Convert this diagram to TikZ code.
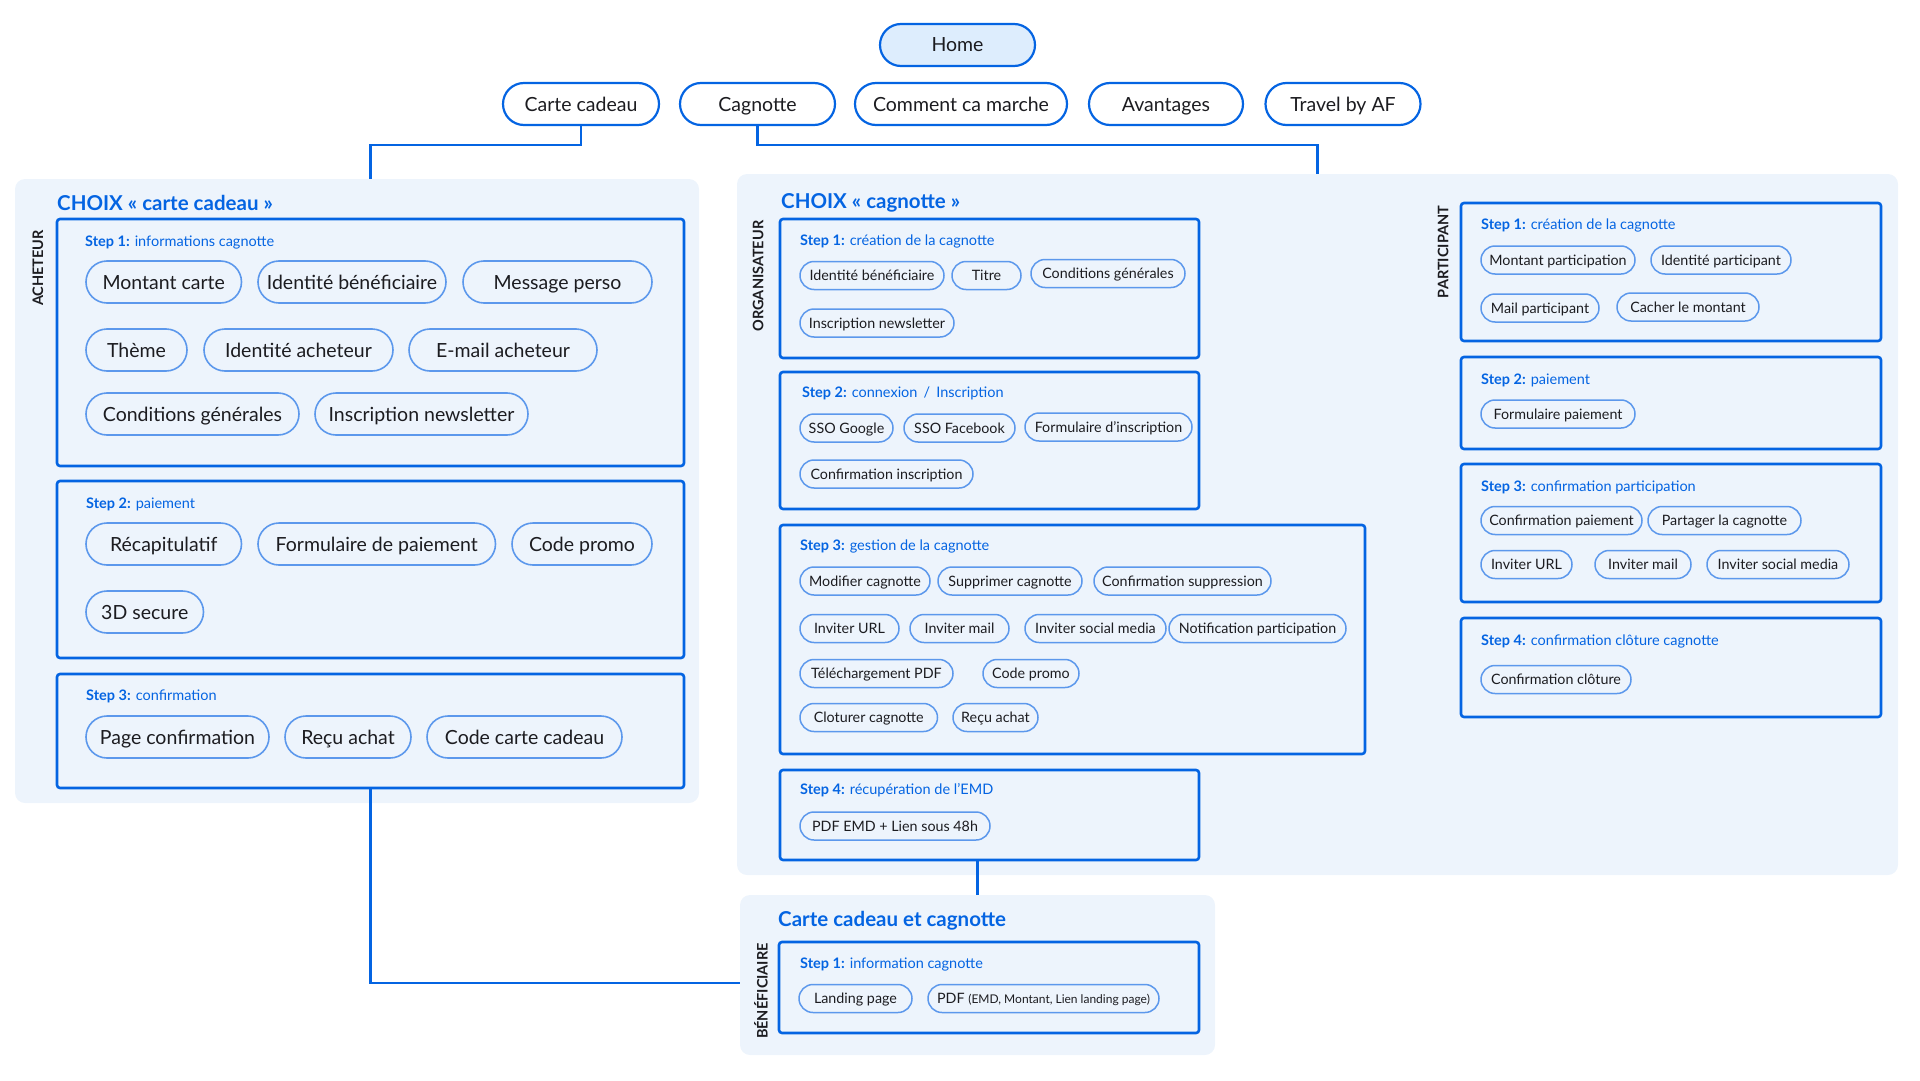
\documentclass[tikz,border=0pt]{standalone}
\usepackage{fontspec}
\setmainfont{Lato}
\usepackage{tikz}
\usetikzlibrary{calc}

\definecolor{mainblue}{RGB}{4,100,226}
\definecolor{pillblue}{RGB}{92,152,236}
\definecolor{panelbg}{RGB}{237,244,252}
\definecolor{homefill}{RGB}{221,237,253}
\definecolor{ink}{RGB}{28,28,32}

\tikzset{
  panel/.style={fill=panelbg, rounded corners=10pt, inner sep=0pt},
  stepbox/.style={draw=mainblue, line width=2.6pt, rounded corners=3pt, inner sep=0pt},
  navpill/.style={draw=mainblue, line width=2.2pt, rounded corners=21pt, minimum height=42pt, inner sep=0pt, text=ink, text height=14pt, text depth=0pt, font=\fontsize{19.5}{21}\selectfont},
  bigpill/.style={draw=pillblue, line width=1.6pt, rounded corners=21pt, minimum height=42pt, inner sep=0pt, text=ink, text height=14pt, text depth=0pt, font=\fontsize{19.5}{21}\selectfont},
  pill/.style={draw=pillblue, line width=1.5pt, rounded corners=14pt, minimum height=28pt, inner sep=0pt, text=ink, text height=10.3pt, text depth=0pt, font=\fontsize{14.3}{16}\selectfont},
  steplabel/.style={anchor=west, inner sep=0pt, text=mainblue, text height=10.4pt, text depth=0pt, font=\fontsize{14.5}{16}\selectfont},
  paneltitle/.style={anchor=west, inner sep=0pt, text=mainblue, text height=14.7pt, text depth=0pt, font=\bfseries\fontsize{20.5}{22}\selectfont},
  rolelabel/.style={rotate=90, inner sep=0pt, text=ink, font=\bfseries\fontsize{14.5}{16}\selectfont},
  link/.style={draw=mainblue, line width=2.4pt},
}

\begin{document}
\begin{tikzpicture}[x=1pt, y=-1pt]
  \useasboundingbox (0,0) rectangle (1920,1081);

  % navigation
  \node[navpill, fill=homefill, minimum width=155pt] (home) at (957.5,45) {Home};
  \node[navpill, minimum width=156pt] (cartecadeau) at (581,104) {Carte cadeau};
  \node[navpill, minimum width=155pt] (cagnotte) at (757.5,104) {Cagnotte};
  \node[navpill, minimum width=212pt] (commentca) at (961,104) {Comment ca marche};
  \node[navpill, minimum width=154pt] (avantages) at (1166,104) {Avantages};
  \node[navpill, minimum width=155pt] (travel) at (1343,104) {Travel by AF};

  % panels
  \node[panel, minimum width=684pt, minimum height=624pt] (achPanel) at (357,491) {};
  \node[panel, minimum width=1161pt, minimum height=701pt] (orgPanel) at (1317.5,524.5) {};
  \node[panel, minimum width=475pt, minimum height=160pt] (benPanel) at (977.5,975) {};

  % acheteur
  \node[paneltitle] (achTitle) at (57,203) {CHOIX « carte cadeau »};
  \node[rolelabel] (achRole) at (38,268) {ACHETEUR};
  \node[stepbox, minimum width=627pt, minimum height=247pt] (ach1) at (370.5,342.5) {};
  \node[stepbox, minimum width=627pt, minimum height=177pt] (ach2) at (370.5,569.5) {};
  \node[stepbox, minimum width=627pt, minimum height=114pt] (ach3) at (370.5,731) {};

  \node[steplabel] (ach1lbl) at (85,241) {\textbf{Step 1:} informations cagnotte};
  \node[bigpill, minimum width=155.5pt] (montant) at (163.75,282) {Montant carte};
  \node[bigpill, minimum width=188pt] (idbenef) at (352,282) {Identité bénéficiaire};
  \node[bigpill, minimum width=189pt] (message) at (557.5,282) {Message perso};
  \node[bigpill, minimum width=101pt] (theme) at (136.5,350) {Thème};
  \node[bigpill, minimum width=189pt] (idach) at (298.5,350) {Identité acheteur};
  \node[bigpill, minimum width=188pt] (mailach) at (503,350) {E-mail acheteur};
  \node[bigpill, minimum width=213pt] (cgv) at (192.5,414) {Conditions générales};
  \node[bigpill, minimum width=213pt] (newsletter) at (421.5,414) {Inscription newsletter};

  \node[steplabel] (ach2lbl) at (86,503) {\textbf{Step 2:} paiement};
  \node[bigpill, minimum width=155.5pt] (recap) at (163.75,544) {Récapitulatif};
  \node[bigpill, minimum width=237.5pt] (formpay) at (376.75,544) {Formulaire de paiement};
  \node[bigpill, minimum width=140pt] (promo) at (582,544) {Code promo};
  \node[bigpill, minimum width=117.5pt] (secure) at (144.75,612) {3D secure};

  \node[steplabel] (ach3lbl) at (86,695) {\textbf{Step 3:} confirmation};
  \node[bigpill, minimum width=183pt] (pageconf) at (177.5,737) {Page confirmation};
  \node[bigpill, minimum width=126pt] (recu) at (348,737) {Reçu achat};
  \node[bigpill, minimum width=195pt] (codecarte) at (524.5,737) {Code carte cadeau};

  % organisateur
  \node[paneltitle] (orgTitle) at (781,201) {CHOIX « cagnotte »};
  \node[rolelabel] (orgRole) at (758,276) {ORGANISATEUR};
  \node[stepbox, minimum width=419pt, minimum height=139pt] (org1) at (989.5,288.5) {};
  \node[stepbox, minimum width=419pt, minimum height=137pt] (org2) at (989.5,440.5) {};
  \node[stepbox, minimum width=585pt, minimum height=229pt] (org3) at (1072.5,639.5) {};
  \node[stepbox, minimum width=419pt, minimum height=90pt] (org4) at (989.5,815) {};

  \node[steplabel] (org1lbl) at (800,240) {\textbf{Step 1:} création de la cagnotte};
  \node[pill, minimum width=144pt] (oIdbenef) at (872,275.5) {Identité bénéficiaire};
  \node[pill, minimum width=69pt] (oTitre) at (986.5,275.5) {Titre};
  \node[pill, minimum width=154pt] (oCgv) at (1108,273.5) {Conditions générales};
  \node[pill, minimum width=154pt] (oNews) at (877,323) {Inscription newsletter};

  \node[steplabel] (org2lbl) at (802,392) {\textbf{Step 2:} connexion \,/\, Inscription};
  \node[pill, minimum width=93pt] (oGoogle) at (846.5,428) {SSO Google};
  \node[pill, minimum width=111pt] (oFacebook) at (959.5,428) {SSO Facebook};
  \node[pill, minimum width=167pt] (oForm) at (1108.5,427) {Formulaire d’inscription};
  \node[pill, minimum width=173pt] (oConfIns) at (886.5,474) {Confirmation inscription};

  \node[steplabel] (org3lbl) at (800,545) {\textbf{Step 3:} gestion de la cagnotte};
  \node[pill, minimum width=130pt] (oModif) at (865,581) {Modifier cagnotte};
  \node[pill, minimum width=144pt] (oSuppr) at (1010,581) {Supprimer cagnotte};
  \node[pill, minimum width=177pt] (oConfSup) at (1182.5,581) {Confirmation suppression};
  \node[pill, minimum width=99pt] (oUrl) at (849.5,628.5) {Inviter URL};
  \node[pill, minimum width=99pt] (oMail) at (959.5,628.5) {Inviter mail};
  \node[pill, minimum width=141pt] (oSocial) at (1095.5,628.5) {Inviter social media};
  \node[pill, minimum width=177pt] (oNotif) at (1257.5,628.5) {Notification participation};
  \node[pill, minimum width=153pt] (oPdf) at (876.5,673.5) {Téléchargement PDF};
  \node[pill, minimum width=96pt] (oPromo) at (1031,673.5) {Code promo};
  \node[pill, minimum width=137.5pt] (oClot) at (868.75,717.5) {Cloturer cagnotte};
  \node[pill, minimum width=85pt] (oRecu) at (995.5,717.5) {Reçu achat};

  \node[steplabel] (org4lbl) at (800,789) {\textbf{Step 4:} récupération de l’EMD};
  \node[pill, minimum width=190pt] (oEmd) at (895,826) {PDF EMD + Lien sous 48h};

  % participant
  \node[rolelabel] (parRole) at (1443,252) {PARTICIPANT};
  \node[stepbox, minimum width=420pt, minimum height=138pt] (par1) at (1671,272) {};
  \node[stepbox, minimum width=420pt, minimum height=92pt] (par2) at (1671,403) {};
  \node[stepbox, minimum width=420pt, minimum height=138pt] (par3) at (1671,533) {};
  \node[stepbox, minimum width=420pt, minimum height=99pt] (par4) at (1671,667.5) {};

  \node[steplabel] (par1lbl) at (1481,224) {\textbf{Step 1:} création de la cagnotte};
  \node[pill, minimum width=154pt] (pMontant) at (1558,260) {Montant participation};
  \node[pill, minimum width=140pt] (pId) at (1721,260) {Identité participant};
  \node[pill, minimum width=118pt] (pMail) at (1540,308) {Mail participant};
  \node[pill, minimum width=142pt] (pCacher) at (1688,307) {Cacher le montant};

  \node[steplabel] (par2lbl) at (1481,379) {\textbf{Step 2:} paiement};
  \node[pill, minimum width=154pt] (pForm) at (1558,414) {Formulaire paiement};

  \node[steplabel] (par3lbl) at (1481,486) {\textbf{Step 3:} confirmation participation};
  \node[pill, minimum width=161pt] (pConfPay) at (1561.5,520.5) {Confirmation paiement};
  \node[pill, minimum width=153pt] (pPartager) at (1724.5,520.5) {Partager la cagnotte};
  \node[pill, minimum width=91pt] (pUrl) at (1526.5,564.5) {Inviter URL};
  \node[pill, minimum width=96pt] (pMailInv) at (1643,564.5) {Inviter mail};
  \node[pill, minimum width=142pt] (pSocial) at (1778,564.5) {Inviter social media};

  \node[steplabel] (par4lbl) at (1481,640) {\textbf{Step 4:} confirmation clôture cagnotte};
  \node[pill, minimum width=150pt] (pClot) at (1556,679.5) {Confirmation clôture};

  % beneficiaire
  \node[paneltitle] (benTitle) at (778,919) {Carte cadeau et cagnotte};
  \node[rolelabel] (benRole) at (761,991) {BÉNÉFICIAIRE};
  \node[stepbox, minimum width=420pt, minimum height=91pt] (ben1) at (989,987.5) {};
  \node[steplabel] (ben1lbl) at (800,963) {\textbf{Step 1:} information cagnotte};
  \node[pill, minimum width=113pt] (bLanding) at (855.5,998.5) {Landing page};
  \node[pill, minimum width=231pt] (bPdf) at (1043.5,998.5) {PDF {\fontsize{12}{13}\selectfont (EMD, Montant, Lien landing page)}};

  % connectors
  \draw[link] (cartecadeau.south) -- ++(0,19) -| (ach1.north |- achPanel.north);
  \draw[link] (cagnotte.south) -- ++(0,19) -| (orgPanel.north);
  \draw[link] (ach3.south) |- ([yshift=-8pt]benPanel.west);
  \draw[link] (benPanel.north |- org4.south) -- (benPanel.north);
\end{tikzpicture}
\end{document}
